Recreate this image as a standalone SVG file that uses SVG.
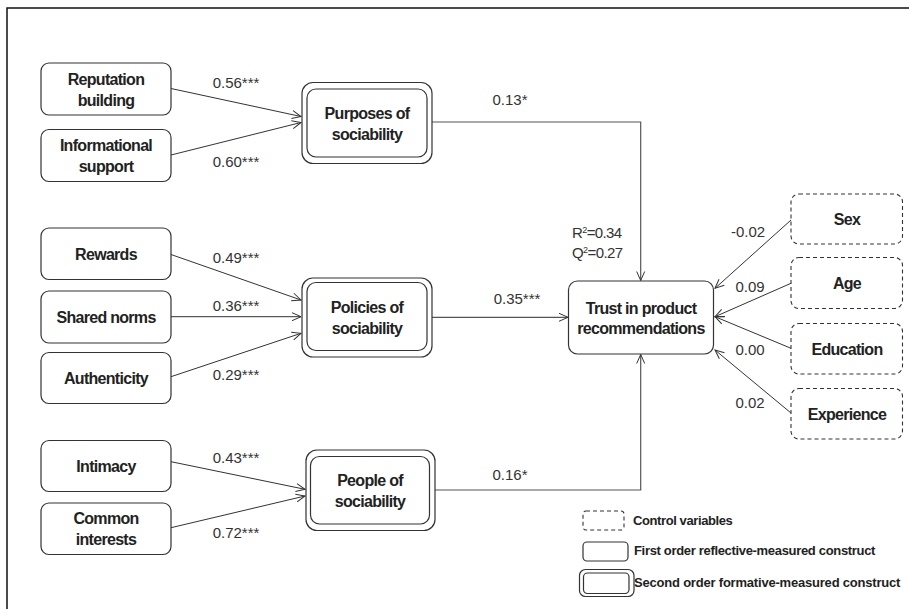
<svg xmlns="http://www.w3.org/2000/svg" width="909" height="609" viewBox="0 0 909 609">
<defs>
<style>
.box{fill:#fff;stroke:#333;stroke-width:1.2}
.dash{fill:#fff;stroke:#333;stroke-width:1.1;stroke-dasharray:4 3}
.nl{font-family:"Liberation Sans",Arial,sans-serif;font-weight:bold;font-size:16px;letter-spacing:-0.7px;fill:#222;text-anchor:middle}
.el{font-family:"Liberation Sans",Arial,sans-serif;font-size:15px;fill:#333;text-anchor:middle}
.lg{font-family:"Liberation Sans",Arial,sans-serif;font-weight:bold;font-size:13px;letter-spacing:-0.4px;fill:#222}
.cn{fill:none;stroke:#333;stroke-width:1}
.cg{fill:none;stroke:#555;stroke-width:1.2}
</style>
<marker id="arr" markerUnits="userSpaceOnUse" markerWidth="12" markerHeight="10" refX="10" refY="5" orient="auto">
<path d="M1,1 L10,5 L1,9" fill="none" stroke="#333" stroke-width="1"/>
</marker>
</defs>
<rect width="909" height="609" fill="#fff"/>
<path d="M7,609 V8 H909" fill="none" stroke="#111" stroke-width="1.5"/>

<g id="connectors">
<line class="cn" x1="171" y1="88.5" x2="301" y2="116.5" marker-end="url(#arr)"/>
<line class="cn" x1="171" y1="155" x2="301" y2="122.5" marker-end="url(#arr)"/>
<line class="cn" x1="171" y1="254.5" x2="301" y2="300" marker-end="url(#arr)"/>
<line class="cn" x1="171" y1="316.7" x2="301" y2="316.7" marker-end="url(#arr)"/>
<line class="cn" x1="171" y1="376.7" x2="301" y2="333.3" marker-end="url(#arr)"/>
<line class="cn" x1="171" y1="461.7" x2="305" y2="489.3" marker-end="url(#arr)"/>
<line class="cn" x1="171" y1="527.7" x2="305" y2="496" marker-end="url(#arr)"/>
<path class="cg" d="M432,122 H640.7 V280.5" marker-end="url(#arr)"/>
<line class="cg" x1="432" y1="317.3" x2="568" y2="317.3" marker-end="url(#arr)"/>
<path class="cg" d="M435,490 H640.7 V354.5" marker-end="url(#arr)"/>
<line class="cn" x1="791" y1="220" x2="715" y2="288.3" marker-end="url(#arr)"/>
<line class="cn" x1="791" y1="283.3" x2="715" y2="316.7" marker-end="url(#arr)"/>
<line class="cn" x1="791" y1="348.3" x2="715" y2="316.7" marker-end="url(#arr)"/>
<line class="cn" x1="791" y1="413" x2="715" y2="350" marker-end="url(#arr)"/>
<text class="el" x="236" y="88">0.56***</text>
<text class="el" x="236" y="167">0.60***</text>
<text class="el" x="236" y="263">0.49***</text>
<text class="el" x="236" y="311">0.36***</text>
<text class="el" x="236" y="380">0.29***</text>
<text class="el" x="236" y="463">0.43***</text>
<text class="el" x="236" y="538">0.72***</text>
<text class="el" x="510" y="105">0.13*</text>
<text class="el" x="517" y="304">0.35***</text>
<text class="el" x="510" y="480">0.16*</text>
<text class="el" x="748" y="237">-0.02</text>
<text class="el" x="750" y="292">0.09</text>
<text class="el" x="750" y="355">0.00</text>
<text class="el" x="750" y="408">0.02</text>
</g>

<g id="reputation">
<rect class="box" x="41" y="63" width="130" height="52" rx="8"/>
<text class="nl" x="106" y="84.5">Reputation</text>
<text class="nl" x="106" y="105.5">building</text>
</g>
<g id="informational">
<rect class="box" x="41" y="129.5" width="130" height="52" rx="8"/>
<text class="nl" x="106" y="151">Informational</text>
<text class="nl" x="106" y="172">support</text>
</g>
<g id="purposes">
<rect class="box" x="302" y="82.5" width="130" height="81" rx="11"/>
<rect class="box" x="307" y="89" width="120" height="68" rx="9"/>
<text class="nl" x="367" y="118.5">Purposes of</text>
<text class="nl" x="367" y="140">sociability</text>
</g>
<g id="rewards">
<rect class="box" x="41" y="228" width="130" height="51.5" rx="8"/>
<text class="nl" x="106" y="260">Rewards</text>
</g>
<g id="sharednorms">
<rect class="box" x="41" y="291" width="130" height="52" rx="8"/>
<text class="nl" x="106" y="323">Shared norms</text>
</g>
<g id="authenticity">
<rect class="box" x="41" y="352.5" width="130" height="51" rx="8"/>
<text class="nl" x="106" y="384">Authenticity</text>
</g>
<g id="policies">
<rect class="box" x="302" y="278" width="130" height="79" rx="11"/>
<rect class="box" x="307" y="282.5" width="120" height="68" rx="9"/>
<text class="nl" x="367" y="313">Policies of</text>
<text class="nl" x="367" y="334">sociability</text>
</g>
<g id="intimacy">
<rect class="box" x="41" y="440.5" width="130" height="51" rx="8"/>
<text class="nl" x="106" y="472">Intimacy</text>
</g>
<g id="commoninterests">
<rect class="box" x="41" y="503" width="130" height="51.5" rx="8"/>
<text class="nl" x="106" y="524">Common</text>
<text class="nl" x="106" y="545">interests</text>
</g>
<g id="people">
<rect class="box" x="306" y="450" width="129" height="80.5" rx="11"/>
<rect class="box" x="310.5" y="456.5" width="119" height="67.5" rx="9"/>
<text class="nl" x="370" y="486">People of</text>
<text class="nl" x="370" y="507">sociability</text>
</g>
<g id="trust">
<rect class="box" x="568.5" y="281" width="145" height="73" rx="9"/>
<text class="nl" x="641" y="313.5">Trust in product</text>
<text class="nl" x="641" y="333.5">recommendations</text>
</g>
<g id="r2">
<text class="el" x="572" y="237.5" style="text-anchor:start;letter-spacing:-0.6px">R<tspan font-size="9" dy="-5">2</tspan><tspan dy="5">=0.34</tspan></text>
<text class="el" x="572" y="258" style="text-anchor:start;letter-spacing:-0.6px">Q<tspan font-size="9" dy="-5">2</tspan><tspan dy="5">=0.27</tspan></text>
</g>
<g id="sex">
<rect class="dash" x="791" y="194" width="111.5" height="50" rx="8"/>
<text class="nl" x="847" y="225">Sex</text>
</g>
<g id="age">
<rect class="dash" x="791" y="257.5" width="111.5" height="51" rx="8"/>
<text class="nl" x="847" y="289">Age</text>
</g>
<g id="education">
<rect class="dash" x="791" y="323.5" width="111.5" height="50.5" rx="8"/>
<text class="nl" x="847" y="355">Education</text>
</g>
<g id="experience">
<rect class="dash" x="791" y="388.5" width="111.5" height="50.5" rx="8"/>
<text class="nl" x="847" y="420">Experience</text>
</g>

<g id="legend">
<rect class="dash" x="583" y="511" width="41" height="19" rx="3"/>
<text class="lg" x="633" y="524.5">Control variables</text>
<rect class="box" x="583" y="542" width="45" height="19" rx="4"/>
<text class="lg" x="634" y="555" textLength="241">First order reflective-measured construct</text>
<rect class="box" x="579.5" y="569.5" width="54.5" height="27" rx="6"/>
<rect class="box" x="583.5" y="573" width="45.5" height="20.5" rx="4"/>
<text class="lg" x="634" y="587" textLength="266">Second order formative-measured construct</text>
</g>
</svg>
